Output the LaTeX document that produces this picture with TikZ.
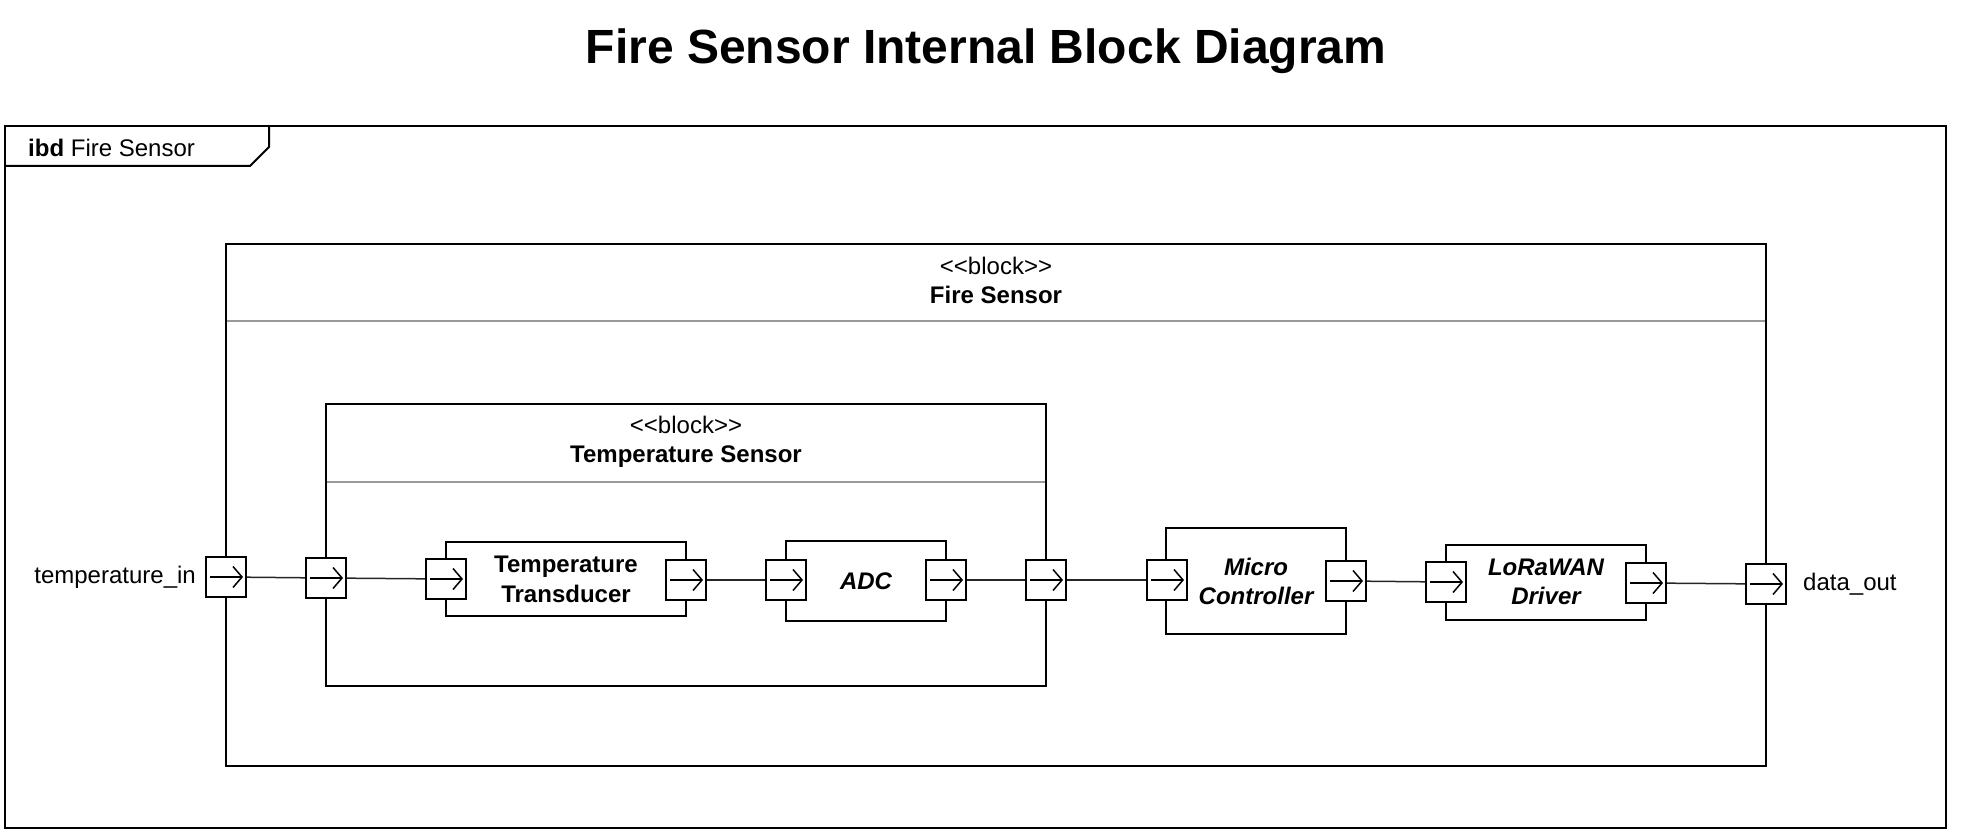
\documentclass[tikz,border=0pt]{standalone}
\usepackage{fontspec}
\setmainfont{Liberation Sans}
\usepackage{xcolor}
\usetikzlibrary{arrows.meta,positioning}

\newcommand{\stereo}[1]{<\kern0pt<#1>\kern0pt>}

\tikzset{
  frm/.style={line width=2pt},
  sep/.style={line width=2pt, color=black!40},
  blk/.style={draw, line width=2pt, fill=white, inner sep=0pt, align=center, font=\fontsize{24}{30}\selectfont\bfseries},
  iblk/.style={blk, font=\fontsize{24}{29}\selectfont\bfseries\itshape},
  port/.style={draw, line width=2pt, fill=white, minimum size=40pt, inner sep=0pt,
    path picture={\draw[line width=1.5pt, -{Straight Barb[length=9pt,width=21pt,line width=1.5pt]}] ([xshift=4pt]path picture bounding box.west) -- ([xshift=-3pt]path picture bounding box.east);}},
  conn/.style={line width=1.5pt, black!85},
  lbl/.style={inner sep=0pt, align=center, font=\fontsize{24}{29}\selectfont}
}

\begin{document}
\begin{tikzpicture}[x=1pt, y=-1pt]
\useasboundingbox (0,0) rectangle (1962,834);
\node[font=\fontsize{48}{56}\selectfont\bfseries, anchor=base] (title) at (986,64) {Fire Sensor Internal Block Diagram};
\draw[frm] (5,126) rectangle (1946,828);
\draw[frm] (5,166) -- (250,166) -- (269,147) -- (269,126);
\node[lbl, anchor=base west] (ibd) at (28,157) {\textbf{ibd} Fire Sensor};

\node[blk, minimum width=1540pt, minimum height=522pt] (fs) at (996,505) {};
\draw[sep] (227,321) -- (1765,321);
\node[lbl] (fsName) at (996,280) {\stereo{block}\\\textbf{Fire Sensor}};

\node[blk, minimum width=720pt, minimum height=282pt] (ts) at (686,544.5) {};
\draw[sep] (327,482) -- (1045,482);
\node[lbl] (tsName) at (686,442) {\stereo{block}\\\textbf{Temperature Sensor}};

\node[blk, minimum width=240pt, minimum height=74pt] (td) at (566,579) {Temperature\\Transducer};
\node[iblk, minimum width=160pt, minimum height=80pt] (adc) at (866,581) {ADC};
\node[iblk, minimum width=180pt, minimum height=106pt] (mc) at (1256,581) {Micro\\Controller};
\node[iblk, minimum width=200pt, minimum height=75pt] (lw) at (1546,582) {LoRaWAN\\Driver};

\node[port] (pIn) at (226,577) {};
\node[port] (pTsIn) at (326,578) {};
\node[port] (pTdIn) at (446,579) {};
\node[port] (pTdOut) at (686,580) {};
\node[port] (pAdcIn) at (786,580) {};
\node[port] (pAdcOut) at (946,580) {};
\node[port] (pTsOut) at (1046,580) {};
\node[port] (pMcIn) at (1167,580) {};
\node[port] (pMcOut) at (1346,581) {};
\node[port] (pLwIn) at (1446,582) {};
\node[port] (pLwOut) at (1646,583) {};
\node[port] (pOut) at (1766,584) {};

\node[lbl, left=9pt of pIn] (tIn) {temperature\_in};
\node[lbl, right=16pt of pOut] (tOut) {data\_out};

\draw[conn] (pIn) -- (pTsIn);
\draw[conn] (pTsIn) -- (pTdIn);
\draw[conn] (pTdOut) -- (pAdcIn);
\draw[conn] (pAdcOut) -- (pTsOut);
\draw[conn] (pTsOut) -- (pMcIn);
\draw[conn] (pMcOut) -- (pLwIn);
\draw[conn] (pLwOut) -- (pOut);
\end{tikzpicture}
\end{document}
